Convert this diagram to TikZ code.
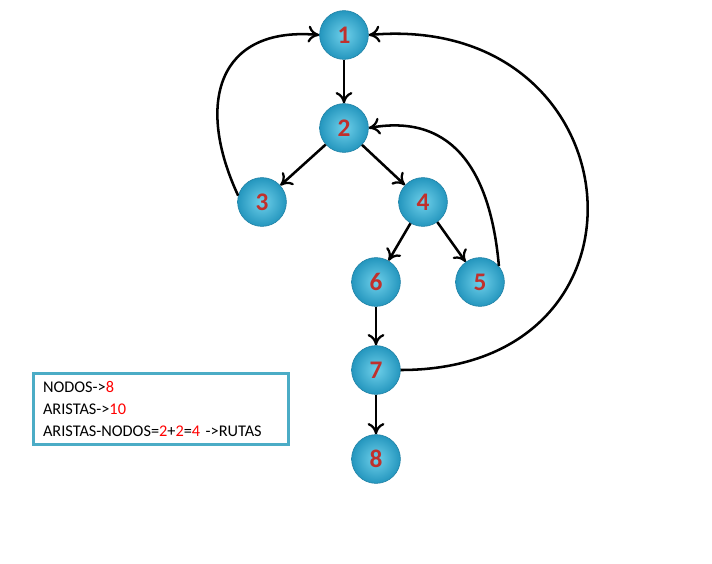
\documentclass[tikz,border=0pt]{standalone}
\usepackage{fontspec}
\setmainfont{Carlito}
\usepackage{tikz}
\usetikzlibrary{arrows.meta,positioning}
\definecolor{ballin}{HTML}{6FD0EA}
\definecolor{ballout}{HTML}{2496BE}
\definecolor{ballrim}{HTML}{1E7FA3}
\definecolor{numcol}{HTML}{C0302C}
\definecolor{boxcol}{HTML}{4BACC6}
\definecolor{hotcol}{HTML}{FF0000}

\begin{document}
\begin{tikzpicture}[
  x=0.025cm, y=-0.025cm,
  >={To[length=8pt,width=12pt,line width=1.6pt]},
  nodo/.style={circle, minimum size=1.22cm, inner sep=0pt, draw=ballrim, thin,
    inner color=ballin, outer color=ballout,
    font=\fontsize{18}{18}\selectfont\bfseries, text=numcol},
  arista/.style={->, line width=1.8pt, black},
  caja/.style={draw=boxcol, line width=2.2pt, fill=white, anchor=north west,
    minimum width=6.375cm, minimum height=1.775cm, inner xsep=6pt,
    align=left, text width=5.9cm, font=\fontsize{11.6}{15.5}\selectfont}
]
\useasboundingbox (0,0) rectangle (712,564);

% nodos del grafo
\node[nodo] (n1) at (344,35) {1};
\node[nodo] (n2) at (344,128) {2};
\node[nodo] (n3) at (262,202) {3};
\node[nodo] (n4) at (423,202) {4};
\node[nodo] (n6) at (376,282) {6};
\node[nodo] (n5) at (480,282) {5};
\node[nodo] (n7) at (376,370) {7};
\node[nodo] (n8) at (376,459) {8};

% aristas rectas
\draw[arista] (n1) -- (n2);
\draw[arista] (n2) -- (n3);
\draw[arista] (n2) -- (n4);
\draw[arista] (n4) -- (n6);
\draw[arista] (n4) -- (n5);
\draw[arista] (n6) -- (n7);
\draw[arista] (n7) -- (n8);

% aristas de retorno
\draw[arista] (n3.165) to[out=115, in=175, looseness=1.45] (n1.west);
\draw[arista] (n5.40) to[out=95, in=10, looseness=1.2] (n2.east);
\draw[arista] (n7.east) to[out=0, in=5, looseness=2.05] (n1.east);

% resumen
\node[caja] (resumen) at (32,372) {NODOS->\textcolor{hotcol}{8}\\
  ARISTAS->\textcolor{hotcol}{10}\\
  ARISTAS-NODOS=\textcolor{hotcol}{2}+\textcolor{hotcol}{2}=\textcolor{hotcol}{4} ->RUTAS};
\end{tikzpicture}
\end{document}
